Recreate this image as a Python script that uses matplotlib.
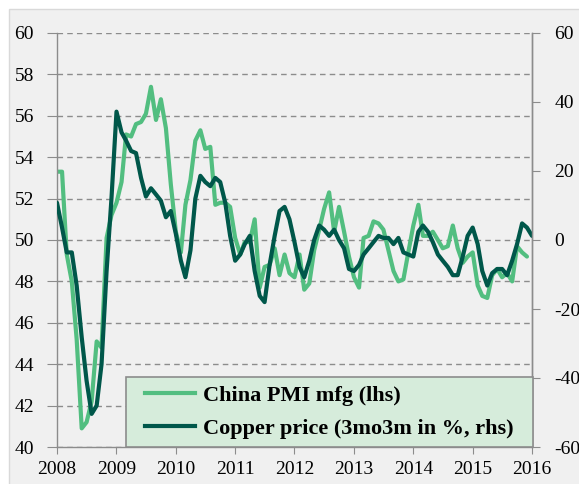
import matplotlib
matplotlib.use('Agg')
import matplotlib.pyplot as plt
from matplotlib.patches import Rectangle
from matplotlib.lines import Line2D
import pandas as pd

# China PMI mfg, lhs (monthly, as plotted)
pmi = [53.3, 53.3, 49.3, 48.0, 45.2, 40.9, 41.2, 42.2, 45.1, 44.8, 50.1, 51.2,
       51.8, 52.8, 55.1, 55.0, 55.6, 55.7, 56.1, 57.4, 55.8, 56.8, 55.4, 52.7,
       50.4, 49.4, 51.7, 52.9, 54.8, 55.3, 54.4, 54.5, 51.7, 51.8, 51.8, 51.6,
       50.1, 49.3, 49.9, 49.9, 51.0, 47.7, 48.7, 48.8, 49.6, 48.3, 49.3, 48.4,
       48.2, 49.3, 47.6, 47.9, 49.5, 50.5, 51.5, 52.3, 50.4, 51.6, 50.4, 49.2,
       48.2, 47.7, 50.1, 50.2, 50.9, 50.8, 50.5, 49.5, 48.5, 48.0, 48.1, 49.4,
       50.7, 51.7, 50.2, 50.2, 50.4, 50.0, 49.6, 49.7, 50.7, 49.6, 48.9, 49.2,
       49.4, 47.8, 47.3, 47.2, 48.3, 48.6, 48.2, 48.4, 48.0, 49.7, 49.4, 49.2]

# copper price, 3mo3m in %, rhs
copper = [10.8, 3.6, -3.6, -3.6, -13.2, -28.2, -40.8, -50.4, -48.0, -36.0, -9.0, 12.0,
          37.2, 31.2, 28.8, 25.8, 25.2, 18.0, 12.6, 15.0, 13.2, 11.4, 6.6, 8.4,
          1.8, -6.0, -10.8, -3.0, 12.0, 18.6, 16.8, 15.6, 18.0, 16.8, 10.8, 1.2,
          -6.0, -4.2, -1.2, 1.2, -9.0, -16.2, -18.0, -7.2, 1.2, 8.4, 9.6, 6.0,
          -0.6, -7.8, -10.8, -6.0, 0.0, 4.2, 3.0, 1.2, 3.0, 0.0, -2.4, -8.4,
          -9.0, -7.2, -4.2, -2.4, -0.6, 1.2, 0.6, 0.6, -1.2, 0.6, -3.6, -4.2,
          -4.8, 2.4, 4.2, 2.4, -0.6, -4.2, -6.0, -7.8, -10.2, -10.2, -4.8, 1.2,
          3.6, -1.2, -9.0, -13.2, -9.6, -8.4, -8.4, -10.2, -6.0, -1.2, 4.8, 3.6,
          1.2]

pmi_dates = pd.date_range('2008-01-01', periods=len(pmi), freq='MS')
copper_dates = pd.date_range('2008-01-01', periods=len(copper), freq='MS')
years = list(range(2008, 2017))
lhs_ticks = list(range(40, 61, 2))
rhs_ticks = list(range(-60, 61, 20))
labels = ['China PMI mfg (lhs)', 'Copper price (3mo3m in %, rhs)']

light = '#52be80'
dark = '#00574a'
grey = '#8c8c8c'

plt.rcParams['font.family'] = ['Liberation Serif', 'DejaVu Serif']
plt.rcParams['axes.unicode_minus'] = False

fig = plt.figure(figsize=(5.79, 4.84), dpi=100, facecolor='white')
fig.patches.append(Rectangle((9 / 579, -0.01), 1.0, 1.01 - 9 / 484, transform=fig.transFigure,
                             facecolor='#f0f0f0', edgecolor='#d9d9d9', lw=1, zorder=-10))

ax = fig.add_axes([57 / 579, 37 / 484, 475 / 579, 414 / 484])
ax.set_facecolor('#f0f0f0')
ax.plot(pmi_dates, pmi, color=light, lw=3, solid_joinstyle='round', solid_capstyle='round')
ax.set_ylim(40, 60)
ax.set_yticks(lhs_ticks)
ax.set_xlim(pd.Timestamp('2008-01-01'), pd.Timestamp('2016-01-01'))
ax.set_xticks([pd.Timestamp('%d-01-01' % y) for y in years])
ax.set_xticklabels([str(y) for y in years])
ax.yaxis.grid(True, linestyle=(0, (4, 3)), color=grey, lw=1)
ax.tick_params(axis='y', direction='out', length=7, color=grey, pad=9.5, labelsize=14)
ax.tick_params(axis='x', direction='out', length=5, color=grey, pad=5, labelsize=14)

ax2 = ax.twinx()
ax2.plot(copper_dates, copper, color=dark, lw=3, solid_joinstyle='round', solid_capstyle='round')
ax2.set_ylim(-60, 60)
ax2.set_yticks(rhs_ticks)
ax2.tick_params(axis='y', direction='out', length=6, color=grey, pad=10, labelsize=14)

for a in (ax, ax2):
    a.spines['top'].set_visible(False)
    for s in ('left', 'right', 'bottom'):
        a.spines[s].set_color(grey)
        a.spines[s].set_linewidth(1)
ax2.spines['left'].set_visible(False)
ax2.spines['bottom'].set_visible(False)

# legend box
box = (0.145, 0.0, 0.857, 0.169)
ax2.add_patch(Rectangle(box[:2], box[2], box[3], transform=ax2.transAxes, clip_on=False,
                        facecolor='#d6ecdb', edgecolor=grey, lw=1.2, zorder=4))
handles = [Line2D([], [], color=light, lw=3), Line2D([], [], color=dark, lw=3)]
leg = ax2.legend(handles, labels, loc='center', bbox_to_anchor=box, frameon=False,
                 borderaxespad=0, prop={'weight': 'bold', 'size': 16},
                 handlelength=2.25, handletextpad=0.36, labelspacing=0.55, borderpad=0.2)

fig.savefig('out.png', dpi=100, facecolor=fig.get_facecolor())
